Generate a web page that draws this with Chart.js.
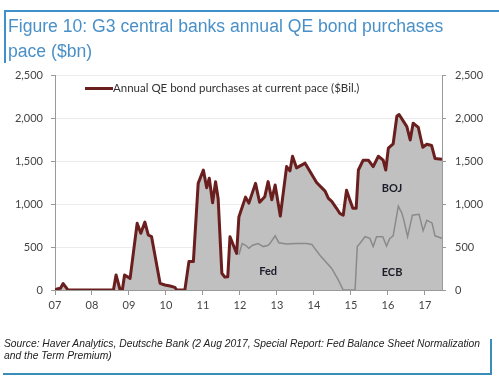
<!DOCTYPE html>
<html>
<head>
<meta charset="utf-8">
<script src="https://cdn.jsdelivr.net/npm/chart.js@4.4.1/dist/chart.umd.min.js"></script>
<style>
  html, body { margin: 0; padding: 0; background: #fff; }
  #wrap { position: relative; width: 499px; height: 381px; overflow: hidden; }
  #c { position: absolute; left: 0; top: 0; }
  .abs { position: absolute; }
  #title { left: 8px; top: 14px; font-family: "Liberation Sans", Arial, sans-serif; font-size: 17.6px; line-height: 25px; color: #4a90c8; white-space: nowrap; }
  #tb { left: 4px; top: 10px; width: 495px; height: 2px; background: #3f8fcb; }
  #lb { left: 4px; top: 10px; width: 2px; height: 53px; background: #3f8fcb; }
  #src { left: 4px; top: 338px; font-family: "Liberation Sans", Arial, sans-serif; font-style: italic; font-size: 10.3px; line-height: 12px; color: #222; white-space: nowrap; }
  #rb { left: 490px; top: 339px; width: 2px; height: 36px; background: #3a8db8; }
  #bb { left: 3px; top: 373px; width: 489px; height: 2px; background: #3a8db8; }
  #legline { left: 85px; top: 86.5px; width: 28px; height: 3px; background: #6b1e1e; }
  #legtxt { left: 113px; top: 81px; font-family: Lato, "Open Sans", sans-serif; font-size: 11.5px; line-height: 13px; color: #333; white-space: nowrap; }
</style>
</head>
<body>
<div id="wrap">
  <canvas id="c" width="499" height="381"></canvas>
  <div class="abs" id="tb"></div>
  <div class="abs" id="lb"></div>
  <div class="abs" id="title">Figure 10: G3 central banks annual QE bond purchases<br>pace ($bn)</div>
  <div class="abs" id="legline"></div>
  <div class="abs" id="legtxt">Annual QE bond purchases at current pace ($Bil.)</div>
  <div class="abs" id="src">Source: Haver Analytics, Deutsche Bank (2 Aug 2017, Special Report: Fed Balance Sheet Normalization<br>and the Term Premium)</div>
  <div class="abs" id="rb"></div>
  <div class="abs" id="bb"></div>
</div>
<script>
// ---- data (decimal years) ----
const totalDates = [2007.00,2007.08,2007.15,2007.22,2007.35,2008.58,2008.65,2008.76,2008.82,2008.88,2009.03,2009.22,2009.32,2009.43,2009.52,2009.61,2009.84,2009.97,2010.11,2010.24,2010.29,2010.51,2010.62,2010.74,2010.87,2011.01,2011.10,2011.17,2011.26,2011.34,2011.41,2011.51,2011.59,2011.67,2011.73,2011.91,2011.97,2012.15,2012.24,2012.42,2012.53,2012.67,2012.76,2012.86,2012.95,2013.09,2013.26,2013.35,2013.42,2013.53,2013.76,2014.07,2014.30,2014.39,2014.48,2014.61,2014.70,2014.79,2014.88,2014.97,2015.05,2015.14,2015.20,2015.33,2015.47,2015.60,2015.74,2015.87,2015.94,2016.01,2016.14,2016.24,2016.30,2016.51,2016.60,2016.68,2016.82,2016.94,2017.05,2017.18,2017.27,2017.46];
const totalValues = [0,15,20,75,0,0,175,0,0,175,135,775,660,790,640,620,78,58,46,30,0,0,330,330,1240,1395,1190,1300,1015,1260,1060,195,150,155,620,425,850,1080,1010,1240,1020,1085,1260,1050,1220,860,1435,1385,1555,1420,1475,1250,1150,1065,1030,950,890,870,1160,1045,950,950,1395,1510,1510,1435,1555,1510,1395,1650,1700,2020,2040,1900,1745,1940,1890,1660,1695,1680,1530,1520];

// Fed (to 2014) then ECB (from 2015) component
const compDates = [2011.97,2012.06,2012.15,2012.24,2012.34,2012.49,2012.63,2012.76,2012.81,2012.95,2013.05,2013.26,2013.51,2013.80,2013.94,2014.16,2014.48,2014.66,2014.79,2015.11,2015.17,2015.24,2015.38,2015.51,2015.60,2015.69,2015.86,2015.96,2016.05,2016.14,2016.28,2016.38,2016.43,2016.53,2016.66,2016.84,2016.95,2017.05,2017.19,2017.27,2017.46];
const compValues = [410,540,520,485,520,540,505,520,540,630,550,535,540,540,530,405,250,115,0,0,505,540,620,600,505,620,620,510,600,630,975,890,810,620,870,880,690,810,780,630,600];

const yearTicks = [2007,2008,2009,2010,2011,2012,2013,2014,2015,2016,2017];
const valueTicks = [0,500,1000,1500,2000,2500];
const areaLabels = ['Fed','BOJ','ECB'];
const areaLabelX = [2012.76,2016.11,2016.11];
const areaLabelY = [221,1186,209];

const toPts = (xs, ys) => xs.map((x, i) => ({x: x, y: ys[i]}));

const labelPlugin = {
  id: 'areaLabels',
  afterDatasetsDraw(chart) {
    const ctx = chart.ctx, xs = chart.scales.x, ys = chart.scales.y;
    ctx.save();
    ctx.font = 'bold 11px Lato, "Open Sans", sans-serif';
    ctx.fillStyle = '#1c1c2a';
    ctx.textAlign = 'center';
    ctx.textBaseline = 'middle';
    areaLabels.forEach((t, i) => ctx.fillText(t, xs.getPixelForValue(areaLabelX[i]), ys.getPixelForValue(areaLabelY[i])));
    ctx.restore();
  }
};

const tickFont = {family: 'Lato, "Open Sans", sans-serif', size: 11};

new Chart(document.getElementById('c'), {
  type: 'line',
  data: {
    datasets: [
      {
        data: toPts(totalDates, totalValues),
        borderColor: '#6b1e1e', borderWidth: 3, backgroundColor: '#c0c0c0',
        fill: 'origin', pointRadius: 0, tension: 0, order: 2, borderJoinStyle: 'round'
      },
      {
        data: toPts(compDates, compValues),
        borderColor: '#8a8a8a', borderWidth: 1.5, fill: false,
        pointRadius: 0, tension: 0, order: 1
      }
    ]
  },
  options: {
    responsive: false, animation: false, devicePixelRatio: 1,
    layout: {padding: {top: 75, left: 0, right: 0, bottom: 0}},
    plugins: {legend: {display: false}, tooltip: {enabled: false}},
    scales: {
      x: {
        type: 'linear', min: 2007, max: 2017.46,
        afterBuildTicks: s => { s.ticks = yearTicks.map(v => ({value: v})); },
        afterFit: s => { s.height = 91; },
        ticks: {callback: v => String(v).slice(2), font: tickFont, color: '#444', padding: 4, maxRotation: 0, autoSkip: false},
        grid: {drawOnChartArea: false, tickLength: 5, tickColor: '#999'},
        border: {color: '#999', width: 1}
      },
      y: {
        position: 'left', min: 0, max: 2500,
        afterBuildTicks: s => { s.ticks = valueTicks.map(v => ({value: v})); },
        afterFit: s => { s.width = 55; },
        ticks: {callback: v => v.toLocaleString('en-US'), font: tickFont, color: '#444', padding: 8},
        grid: {color: '#ececec', tickColor: '#999', tickLength: 4},
        border: {color: '#999', width: 1}
      },
      y2: {
        position: 'right', min: 0, max: 2500,
        afterBuildTicks: s => { s.ticks = valueTicks.map(v => ({value: v})); },
        afterFit: s => { s.width = 57; },
        ticks: {callback: v => v.toLocaleString('en-US'), font: tickFont, color: '#444', padding: 9},
        grid: {drawOnChartArea: false, tickColor: '#999', tickLength: 4},
        border: {color: '#999', width: 1}
      }
    }
  },
  plugins: [labelPlugin]
});
</script>
</body>
</html>
